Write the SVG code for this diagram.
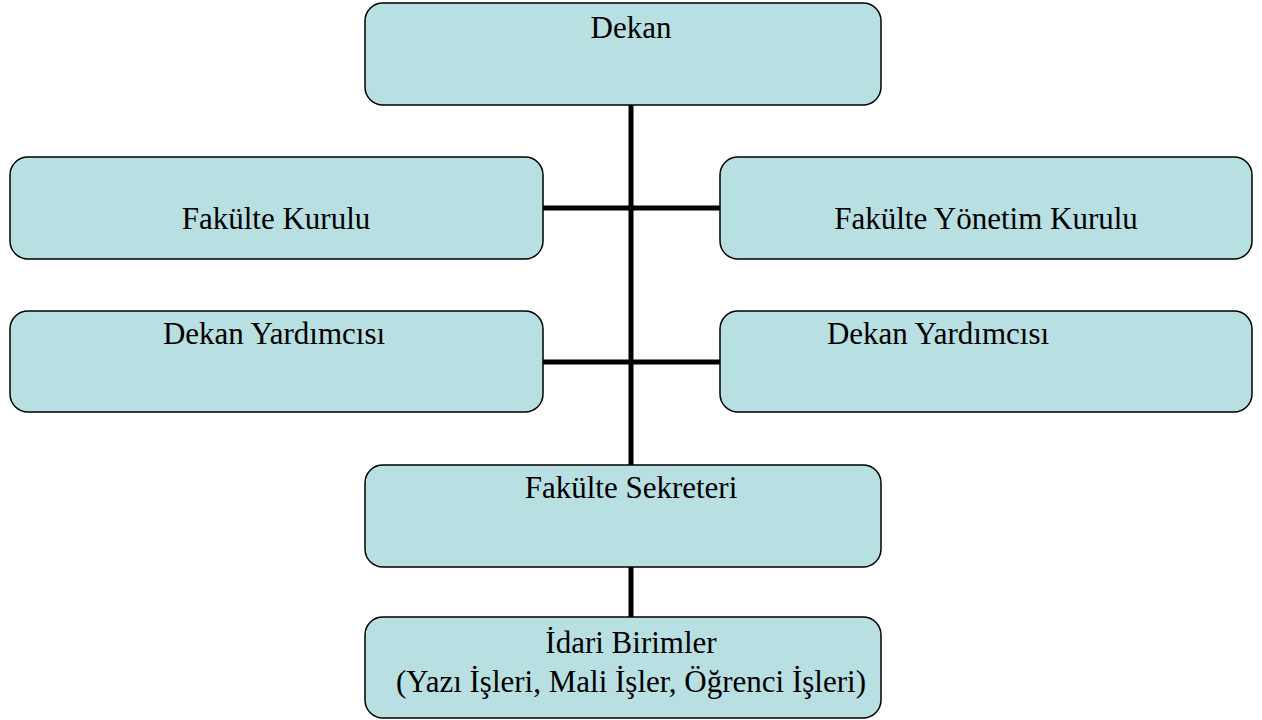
<svg xmlns="http://www.w3.org/2000/svg" width="1262" height="720" viewBox="0 0 1262 720">
<style>
.box{fill:#b8dfe2;stroke:#000;stroke-width:1.5}
.t{font-family:"Liberation Serif","Times New Roman",serif;font-size:31px;fill:#000;text-anchor:middle}
.c{stroke:#000;stroke-width:5;fill:none}
</style>
<rect width="1262" height="720" fill="#fff"/>
<g id="connectors">
<line class="c" x1="631" y1="105" x2="631" y2="465"/>
<line class="c" x1="543" y1="208" x2="720" y2="208"/>
<line class="c" x1="543" y1="362" x2="720" y2="362"/>
<line class="c" x1="631" y1="567" x2="631" y2="617"/>
</g>
<g id="dekan"><rect class="box" x="365" y="3" width="516" height="102" rx="18"/><text class="t" x="631" y="38">Dekan</text></g>
<g id="fakulte-kurulu"><rect class="box" x="10" y="157" width="533" height="102" rx="18"/><text class="t" x="276" y="229">Fakülte Kurulu</text></g>
<g id="fakulte-yonetim-kurulu"><rect class="box" x="720" y="157" width="532" height="102" rx="18"/><text class="t" x="986" y="229">Fakülte Yönetim Kurulu</text></g>
<g id="dekan-yardimcisi-1"><rect class="box" x="10" y="311" width="533" height="101" rx="18"/><text class="t" x="274" y="344">Dekan Yardımcısı</text></g>
<g id="dekan-yardimcisi-2"><rect class="box" x="720" y="311" width="532" height="101" rx="18"/><text class="t" x="938" y="344">Dekan Yardımcısı</text></g>
<g id="fakulte-sekreteri"><rect class="box" x="365" y="465" width="516" height="102" rx="18"/><text class="t" x="631" y="498">Fakülte Sekreteri</text></g>
<g id="idari-birimler"><rect class="box" x="365" y="617" width="516" height="101" rx="18"/><text class="t" x="631" y="653">İdari Birimler</text><text class="t" x="631" y="692">(Yazı İşleri, Mali İşler, Öğrenci İşleri)</text></g>
</svg>
